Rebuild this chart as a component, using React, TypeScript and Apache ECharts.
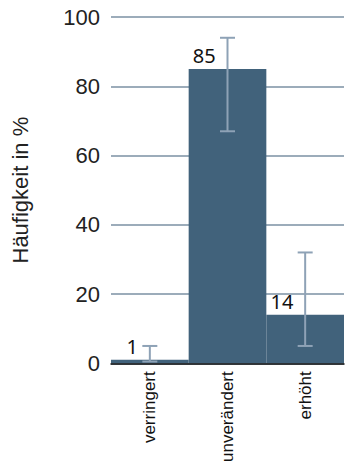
import React, { useEffect, useRef } from "react";
import * as echarts from "echarts";

const categories = ["verringert", "unverändert", "erhöht"];
const values = [1, 85, 14];
const errLower = [0.5, 67, 5];
const errUpper = [5, 94, 32];
const yTicks = { min: 0, max: 100, interval: 20 };

export default function App() {
  const ref = useRef<HTMLDivElement>(null);
  useEffect(() => {
    if (!ref.current) return;
    const chart = echarts.init(ref.current, null, { renderer: "svg" });
    chart.setOption({
      animation: false,
      grid: { left: 111, right: 1, top: 17, bottom: 101 },
      xAxis: {
        type: "category",
        data: categories,
        offset: 3,
        z: 10,
        axisLine: { lineStyle: { color: "#111", width: 1.5 } },
        axisTick: { inside: true, length: 7, lineStyle: { color: "#111", width: 1.5 } },
        axisLabel: {
          rotate: 90,
          fontFamily: "Liberation Sans",
          fontSize: 17,
          color: "#111",
          margin: 5,
          interval: 0,
        },
      },
      yAxis: {
        type: "value",
        min: yTicks.min,
        max: yTicks.max,
        interval: yTicks.interval,
        name: "Häufigkeit in %",
        nameLocation: "middle",
        nameGap: 80,
        nameTextStyle: { fontFamily: "Liberation Sans", fontSize: 22, color: "#222" },
        axisLine: { show: false },
        axisTick: { show: false },
        axisLabel: { fontFamily: "Liberation Sans", fontSize: 22, color: "#222", margin: 11 },
        splitLine: { lineStyle: { color: "#7b90a3", width: 1.5 } },
      },
      series: [
        {
          type: "bar",
          data: values,
          barWidth: "100%",
          barCategoryGap: "0%",
          itemStyle: { color: "#41627b" },
          label: {
            show: true,
            position: [27, -3],
            align: "right",
            verticalAlign: "bottom",
            fontFamily: "Noto Sans",
            fontSize: 20,
            color: "#111",
          },
          z: 2,
        },
        {
          type: "custom",
          data: categories.map((_, i) => [i, errLower[i], errUpper[i]]),
          z: 5,
          renderItem: (params: any, api: any) => {
            const x = api.value(0);
            const lo = api.coord([x, api.value(1)]);
            const hi = api.coord([x, api.value(2)]);
            const hw = 7.5;
            const style = { stroke: "#8ea2b6", lineWidth: 2 };
            return {
              type: "group",
              children: [
                { type: "line", shape: { x1: lo[0], y1: lo[1], x2: hi[0], y2: hi[1] }, style },
                { type: "line", shape: { x1: hi[0] - hw, y1: hi[1], x2: hi[0] + hw, y2: hi[1] }, style },
                { type: "line", shape: { x1: lo[0] - hw, y1: lo[1], x2: lo[0] + hw, y2: lo[1] }, style },
              ],
            };
          },
        },
      ],
    });
    return () => chart.dispose();
  }, []);
  return <div ref={ref} style={{ width: 345, height: 465, position: "absolute", left: 0, top: 0 }} />;
}
